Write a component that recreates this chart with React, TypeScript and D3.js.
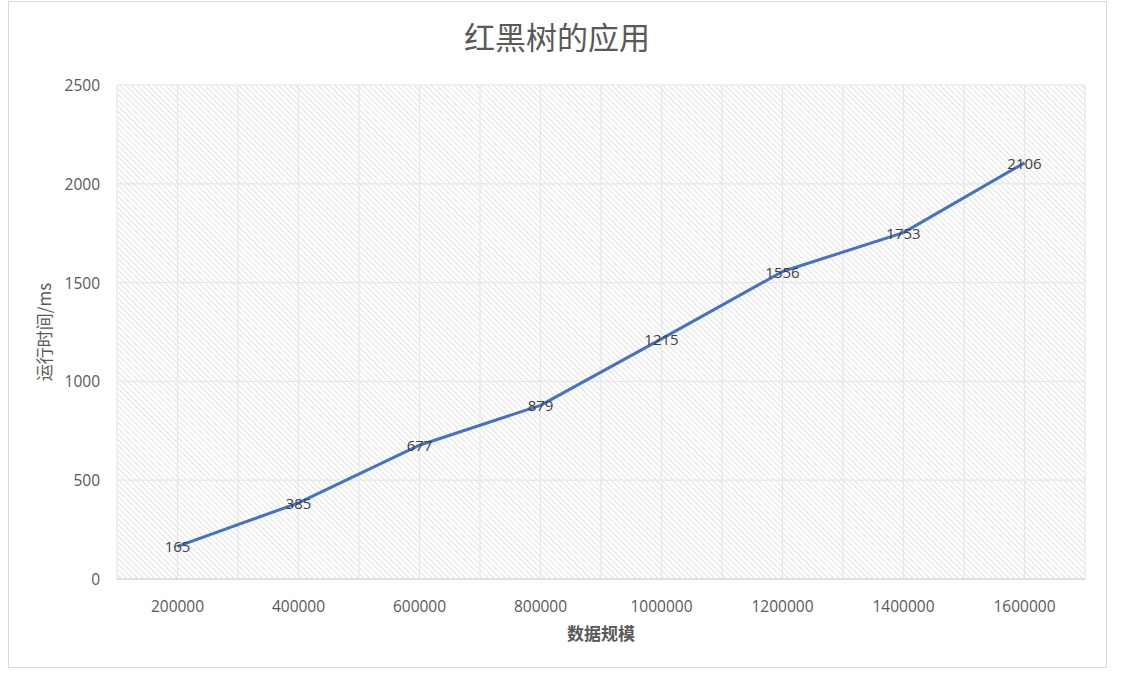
import React from "react";
import * as d3 from "d3";

const categories = ["200000", "400000", "600000", "800000", "1000000", "1200000", "1400000", "1600000"];
const values = [165, 385, 677, 879, 1215, 1556, 1753, 2106];
const yTicks = [0, 500, 1000, 1500, 2000, 2500];
const title = "红黑树的应用";
const xTitle = "数据规模";
const yTitle = "运行时间/ms";

export default function App() {
  const W = 1122, H = 680;
  const left = 117, right = 1085, top = 85, bottom = 579;
  const x = d3.scaleBand<string>().domain(categories).range([left, right]).padding(0);
  const y = d3.scaleLinear().domain([0, 2500]).range([bottom, top]);
  const bw = x.bandwidth();
  const vLines: number[] = [];
  for (let i = 0; i <= categories.length * 2; i++) vLines.push(left + (i * bw) / 2);
  const line = d3.line<number>().x((_, i) => (x(categories[i]) as number) + bw / 2).y(d => y(d));
  const num = "'Open Sans', sans-serif";
  const cjk = "'Noto Sans CJK SC', sans-serif";
  return (
    <svg width={W} height={H} style={{ position: "absolute", left: 0, top: 0 }} fontFamily={num}>
      <defs>
        <pattern id="hatch" width="4" height="4" patternUnits="userSpaceOnUse" patternTransform="rotate(-45)">
          <line x1="0" y1="0" x2="0" y2="4" stroke="#d9d9d9" strokeWidth="1.5" />
        </pattern>
      </defs>
      <rect x={0} y={0} width={W} height={H} fill="#fff" />
      <rect x={8.5} y={1.5} width={1098} height={666} fill="#fff" stroke="#d9d9d9" strokeWidth={1} />
      <text x={557} y={49} textAnchor="middle" fontSize={31} fill="#595959" fontFamily={cjk}>{title}</text>
      <rect x={left} y={top} width={right - left} height={bottom - top} fill="url(#hatch)" />
      {vLines.map((v, i) => (
        <line key={"v" + i} x1={v} x2={v} y1={top} y2={bottom} stroke="#e6e6e6" strokeWidth={1.2} />
      ))}
      {yTicks.map(t => (
        <line key={"h" + t} x1={left} x2={right} y1={y(t)} y2={y(t)} stroke="#e6e6e6" strokeWidth={1.2} />
      ))}
      <line x1={left} x2={right} y1={bottom} y2={bottom} stroke="#d9d9d9" strokeWidth={1.5} />
      {yTicks.map(t => (
        <text key={"yt" + t} x={100} y={y(t) + 6} textAnchor="end" fontSize={15.5} fill="#595959">{t}</text>
      ))}
      {categories.map(c => (
        <text key={"xt" + c} x={(x(c) as number) + bw / 2} y={612} textAnchor="middle" fontSize={15.5} fill="#595959">{c}</text>
      ))}
      <path d={line(values) || ""} fill="none" stroke="#4472C4" strokeWidth={3} strokeLinejoin="round" />
      {values.map((v, i) => (
        <text key={"dl" + i} x={(x(categories[i]) as number) + bw / 2} y={y(v) + 6} textAnchor="middle" fontSize={15} fill="#404040">{v}</text>
      ))}
      <text x={601} y={640} textAnchor="middle" fontSize={17} fontWeight="bold" fill="#595959" fontFamily={cjk}>{xTitle}</text>
      <text transform="translate(51,332) rotate(-90)" textAnchor="middle" fontSize={17} fill="#595959" fontFamily={cjk}>{yTitle}</text>
    </svg>
  );
}
